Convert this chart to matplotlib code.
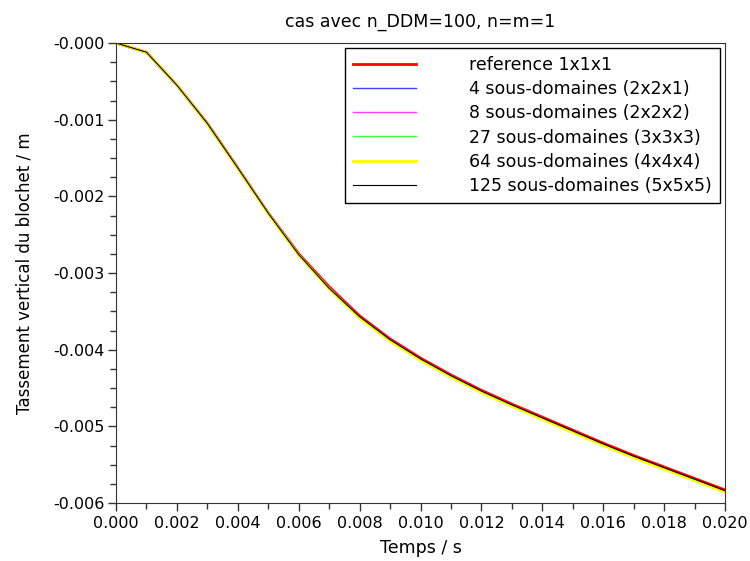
import numpy as np
import matplotlib
matplotlib.use("Agg")
import matplotlib.pyplot as plt
from matplotlib.ticker import MultipleLocator, FormatStrFormatter

# time steps (s)
temps = [0.000, 0.001, 0.002, 0.003, 0.004, 0.005, 0.006, 0.007, 0.008, 0.009, 0.010,
         0.011, 0.012, 0.013, 0.014, 0.015, 0.016, 0.017, 0.018, 0.019, 0.020]

# vertical settlement (m)
ref_1x1x1 = [0.0, -0.00012, -0.00055, -0.00105, -0.00163, -0.00222, -0.00275, -0.00318,
             -0.00356, -0.00386, -0.00411, -0.00433, -0.00453, -0.00471, -0.00488,
             -0.00505, -0.00522, -0.00538, -0.00553, -0.00568, -0.00583]
sd_4 = [0.0, -0.00012, -0.00055, -0.00105, -0.00163, -0.00222, -0.00276, -0.00320,
        -0.00358, -0.00388, -0.00413, -0.00435, -0.00455, -0.00473, -0.00490,
        -0.00508, -0.00525, -0.00541, -0.00556, -0.00571, -0.00586]
sd_8 = [0.0, -0.00012, -0.00055, -0.00105, -0.00163, -0.00222, -0.00276, -0.00319,
        -0.00357, -0.00387, -0.00412, -0.00434, -0.00454, -0.00472, -0.00489,
        -0.00507, -0.00524, -0.00540, -0.00555, -0.00570, -0.00585]
sd_27 = [0.0, -0.00012, -0.00055, -0.00105, -0.00163, -0.00222, -0.00276, -0.00320,
         -0.00358, -0.00388, -0.00413, -0.00435, -0.00455, -0.00473, -0.00490,
         -0.00507, -0.00524, -0.00540, -0.00555, -0.00570, -0.00586]
sd_64 = [0.0, -0.00012, -0.00055, -0.00106, -0.00164, -0.00223, -0.00277, -0.00321,
         -0.00359, -0.00389, -0.00414, -0.00436, -0.00456, -0.00474, -0.00491,
         -0.00508, -0.00525, -0.00541, -0.00556, -0.00571, -0.00586]
sd_125 = [0.0, -0.00012, -0.00055, -0.00105, -0.00163, -0.00222, -0.00276, -0.00320,
          -0.00357, -0.00387, -0.00412, -0.00434, -0.00454, -0.00472, -0.00489,
          -0.00506, -0.00523, -0.00539, -0.00554, -0.00569, -0.00584]

labels = ["reference 1x1x1",
          "4 sous-domaines (2x2x1)",
          "8 sous-domaines (2x2x2)",
          "27 sous-domaines (3x3x3)",
          "64 sous-domaines (4x4x4)",
          "125 sous-domaines (5x5x5)"]

fig = plt.figure(figsize=(7.5, 5.61), dpi=100)
ax = fig.add_axes([116 / 750, 1 - 503 / 561, 609 / 750, 460 / 561])

ax.plot(temps, ref_1x1x1, color="#ff0000", lw=2.0, label=labels[0])
ax.plot(temps, sd_4, color="#4040ff", lw=1.0, label=labels[1])
ax.plot(temps, sd_8, color="#ff40ff", lw=1.0, label=labels[2])
ax.plot(temps, sd_27, color="#40ff40", lw=1.0, label=labels[3])
ax.plot(temps, sd_64, color="#ffff00", lw=2.0, label=labels[4])
ax.plot(temps, sd_125, color="#000000", lw=0.8, label=labels[5])

ax.set_xlim(0, 0.02)
ax.set_ylim(-0.006, 0)
ax.xaxis.set_major_locator(MultipleLocator(0.002))
ax.xaxis.set_minor_locator(MultipleLocator(0.001))
ax.yaxis.set_minor_locator(MultipleLocator(0.00025))
ax.xaxis.set_major_formatter(FormatStrFormatter("%.3f"))
ax.set_yticks(np.arange(-0.006, 0.0001, 0.001))
ax.set_yticklabels(["-0.006", "-0.005", "-0.004", "-0.003", "-0.002", "-0.001", "-0.000"])

ax.tick_params(which="major", direction="out", length=6, width=1, labelsize=11.5,
               colors="#333333", labelcolor="black")
ax.tick_params(which="minor", direction="out", length=4, width=1, colors="#333333")
ax.tick_params(axis="x", pad=3)
ax.tick_params(axis="y", pad=2)
for s in ax.spines.values():
    s.set_color("#333333")

ax.set_xlabel("Temps / s", fontsize=12.5, labelpad=6)
ax.set_ylabel("Tassement vertical du blochet / m", fontsize=12, labelpad=14)
ax.set_title("cas avec n_DDM=100, n=m=1", fontsize=12.5, pad=12)

leg = ax.legend(loc="upper right", bbox_to_anchor=(1 - 5 / 609, 1 - 5 / 460),
                borderaxespad=0, fontsize=12.5, handlelength=3.6, handletextpad=3.1,
                labelspacing=0.36, borderpad=0.45, fancybox=False, framealpha=1)
leg.get_frame().set_edgecolor("black")
leg.get_frame().set_linewidth(1.0)

fig.savefig("out.png", dpi=100)
